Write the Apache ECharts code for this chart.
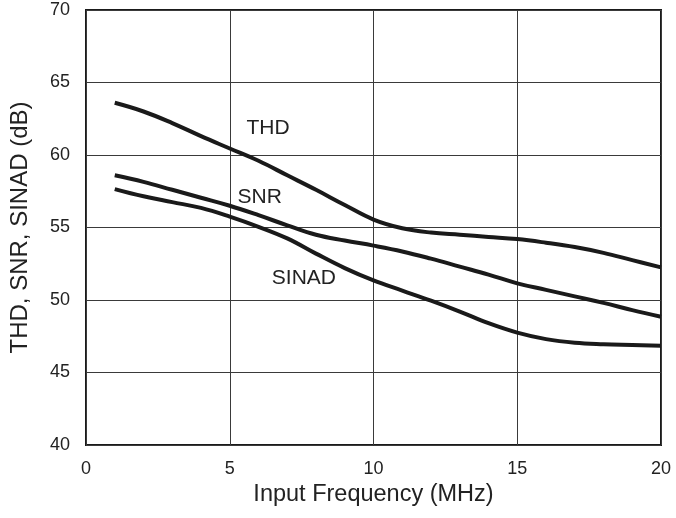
<!DOCTYPE html>
<html>
<head>
<meta charset="utf-8">
<script src="https://cdn.jsdelivr.net/npm/echarts@6/dist/echarts.min.js"></script>
<style>html,body{margin:0;padding:0;background:#fff;}#c{width:676px;height:518px;}</style>
</head>
<body>
<div id="c"></div>
<script>
var freq = [1,2,3,4,5,6,7,8,9,10,11,12,13,14,15,16,17,18,19,20];
var thd = [63.6,63.0,62.2,61.3,60.45,59.6,58.6,57.6,56.55,55.55,54.95,54.65,54.5,54.35,54.2,53.95,53.65,53.25,52.75,52.25];
var snr = [58.6,58.15,57.6,57.05,56.5,55.85,55.15,54.5,54.1,53.75,53.35,52.85,52.3,51.75,51.15,50.7,50.25,49.8,49.3,48.85];
var sinad = [57.65,57.15,56.75,56.35,55.75,55.05,54.25,53.2,52.2,51.35,50.65,49.95,49.2,48.4,47.75,47.3,47.05,46.95,46.9,46.85];
var seriesNames = ['THD','SNR','SINAD'];
var labelPos = [[6.33,61.86],[6.04,57.07],[7.58,51.48]];
var xTicks = [0,5,10,15,20];
var yTicks = [40,45,50,55,60,65,70];

var values = [thd, snr, sinad];
var font = 'Liberation Sans, Arial, Helvetica, sans-serif';
var chart = echarts.init(document.getElementById('c'), null, {renderer:'canvas'});
chart.setOption({
  animation:false,
  backgroundColor:'#fff',
  grid:{left:83,right:15,top:10,bottom:73,show:true,borderColor:'#1a1a1a',borderWidth:2,backgroundColor:'transparent'},
  xAxis:{type:'value',min:xTicks[0],max:xTicks[xTicks.length-1],interval:5,
    name:'Input Frequency (MHz)',nameLocation:'middle',nameGap:35,
    nameTextStyle:{fontSize:23.5,color:'#222',fontFamily:font},
    axisLine:{show:false},axisTick:{show:false},
    axisLabel:{margin:15,fontSize:18,color:'#222',fontFamily:font},
    splitLine:{show:true,lineStyle:{color:'#3a3a3a',width:1}}},
  yAxis:{type:'value',min:yTicks[0],max:yTicks[yTicks.length-1],interval:5,
    name:'THD, SNR, SINAD (dB)',nameLocation:'middle',nameGap:54,
    nameTextStyle:{fontSize:24,color:'#222',fontFamily:font},
    axisLine:{show:false},axisTick:{show:false},
    axisLabel:{margin:16,fontSize:18,color:'#222',fontFamily:font},
    splitLine:{show:true,lineStyle:{color:'#3a3a3a',width:1}}},
  series: values.map(function(v,i){
    return {type:'line',name:seriesNames[i],smooth:0.4,showSymbol:false,
      data:freq.map(function(f,j){return [f,v[j]];}),
      lineStyle:{color:'#1a1a1a',width:4},
      markPoint:{symbol:'circle',symbolSize:0,
        label:{show:true,formatter:seriesNames[i],fontSize:21,color:'#222',fontFamily:font,position:'inside'},
        data:[{coord:labelPos[i]}]}};
  })
});
</script>
</body>
</html>
